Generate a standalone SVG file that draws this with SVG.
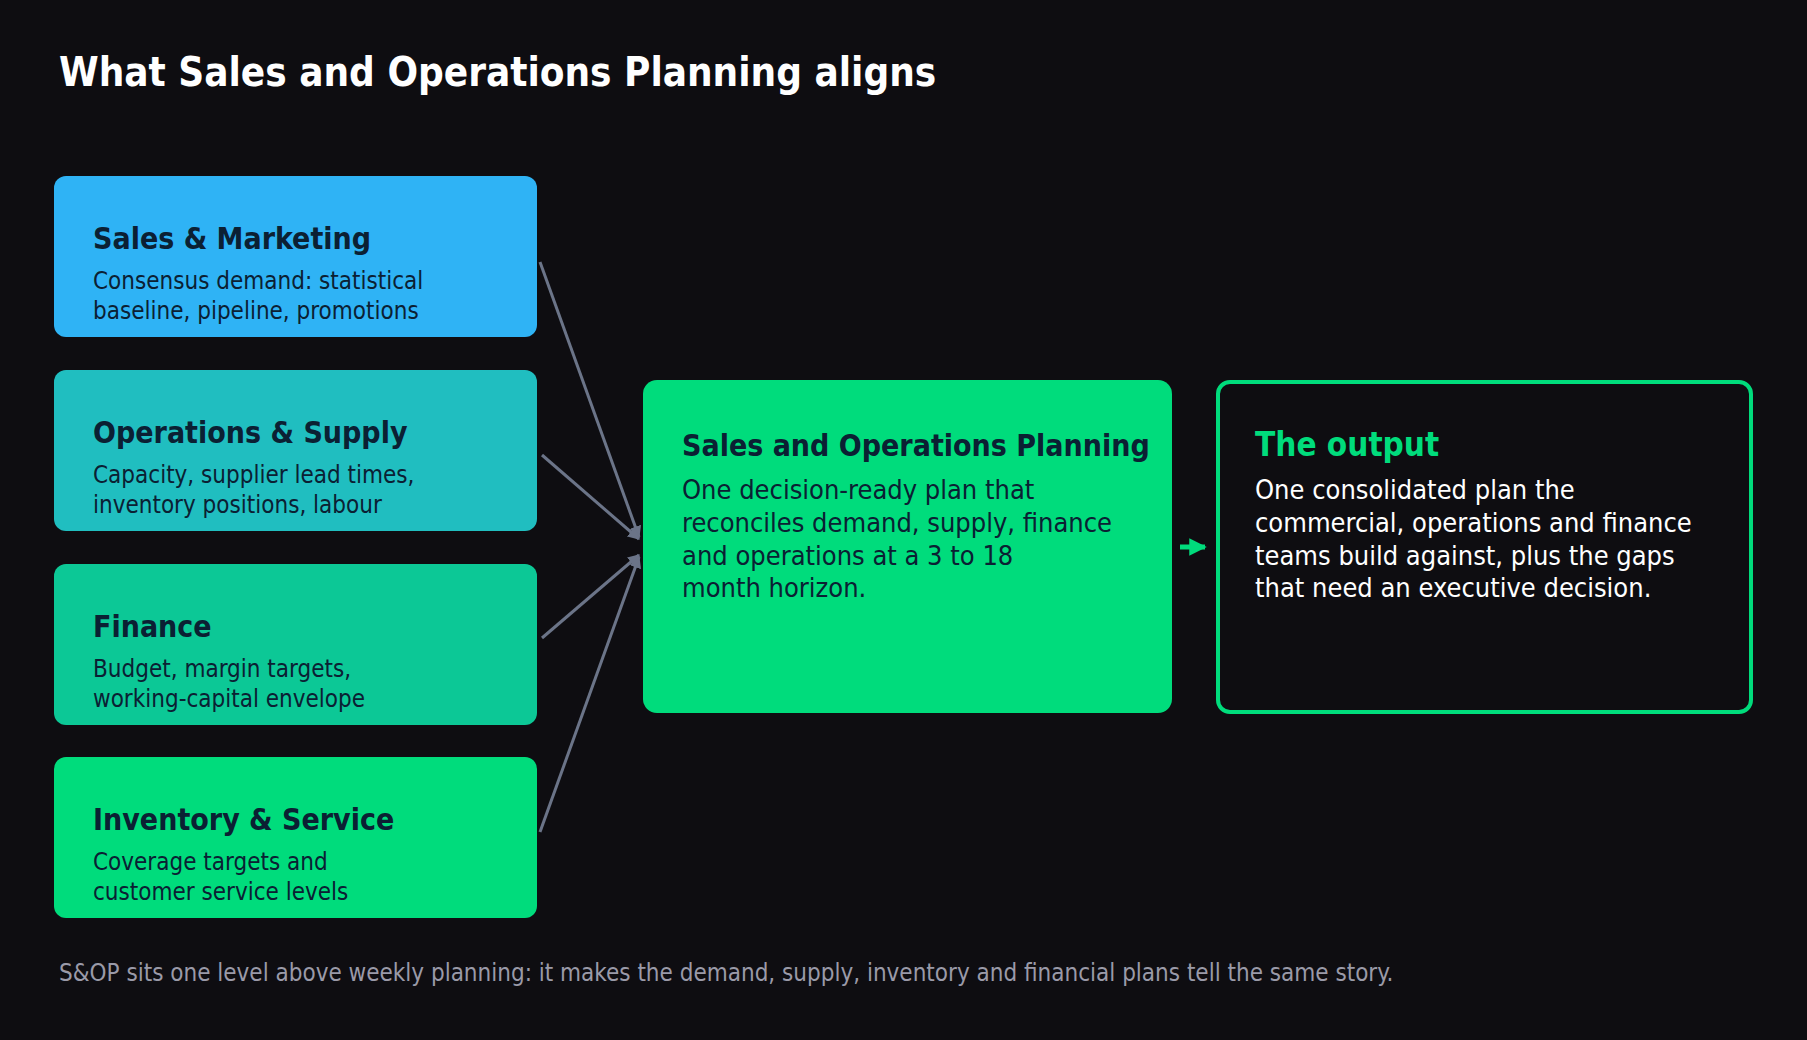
<svg xmlns="http://www.w3.org/2000/svg" width="1807" height="1040" viewBox="0 0 1807 1040">
<style>
text{font-family:"Liberation Sans Narrow","DejaVu Sans Condensed","Liberation Sans",sans-serif}
.t{font-size:30px;font-weight:bold;fill:#0b2033}
.d{font-size:24px;fill:#0b2033}
.c{font-size:27px}
.ln{stroke:#6b7488;stroke-width:3;fill:none;marker-end:url(#ah)}
</style>
<defs>
<marker id="ah" viewBox="0 0 10 10" refX="9" refY="5" markerWidth="4" markerHeight="4" orient="auto"><path d="M0,0L10,5L0,10z" fill="#6b7488"/></marker>
<marker id="ag" viewBox="0 0 10 10" refX="9" refY="5" markerWidth="3.5" markerHeight="3.5" orient="auto"><path d="M0,0L10,5L0,10z" fill="#00dc7c"/></marker>
</defs>
<rect width="1807" height="1040" fill="#0e0d11"/>
<text x="59" y="86" font-size="40" font-weight="bold" fill="#fff">What Sales and Operations Planning aligns</text>
<g id="sales"><rect x="54" y="176" width="483" height="161" rx="12" fill="#2fb3f5"/><text class="t" x="93" y="249">Sales &amp; Marketing</text><text class="d" x="93" y="289">Consensus demand: statistical</text><text class="d" x="93" y="319">baseline, pipeline, promotions</text></g>
<g id="ops"><rect x="54" y="370" width="483" height="161" rx="12" fill="#20bec0"/><text class="t" x="93" y="443">Operations &amp; Supply</text><text class="d" x="93" y="483">Capacity, supplier lead times,</text><text class="d" x="93" y="513">inventory positions, labour</text></g>
<g id="finance"><rect x="54" y="564" width="483" height="161" rx="12" fill="#0cc896"/><text class="t" x="93" y="637">Finance</text><text class="d" x="93" y="677">Budget, margin targets,</text><text class="d" x="93" y="707">working-capital envelope</text></g>
<g id="inventory"><rect x="54" y="757" width="483" height="161" rx="12" fill="#00dc7c"/><text class="t" x="93" y="830">Inventory &amp; Service</text><text class="d" x="93" y="870">Coverage targets and</text><text class="d" x="93" y="900">customer service levels</text></g>
<g id="sop"><rect x="643" y="380" width="529" height="333" rx="14" fill="#00dc7c"/><text class="t" x="682" y="456" font-size="33">Sales and Operations Planning</text><text class="c" x="682" y="499" fill="#0b2033">One decision-ready plan that</text><text class="c" x="682" y="532" fill="#0b2033">reconciles demand, supply, finance</text><text class="c" x="682" y="565" fill="#0b2033">and operations at a 3 to 18</text><text class="c" x="682" y="597" fill="#0b2033">month horizon.</text></g>
<g id="output"><rect x="1218" y="382" width="533" height="330" rx="12" fill="none" stroke="#00dc7c" stroke-width="4"/><text x="1255" y="456" font-size="33" font-weight="bold" fill="#00dc7c">The output</text><text class="c" x="1255" y="499" fill="#fff">One consolidated plan the</text><text class="c" x="1255" y="532" fill="#fff">commercial, operations and finance</text><text class="c" x="1255" y="565" fill="#fff">teams build against, plus the gaps</text><text class="c" x="1255" y="597" fill="#fff">that need an executive decision.</text></g>
<g id="connectors">
<line class="ln" x1="540" y1="262" x2="639" y2="537"/>
<line class="ln" x1="542" y1="455" x2="639" y2="539"/>
<line class="ln" x1="542" y1="638" x2="639" y2="555"/>
<line class="ln" x1="540" y1="832" x2="639" y2="557"/>
<line x1="1180" y1="547" x2="1205" y2="547" stroke="#00dc7c" stroke-width="5" marker-end="url(#ag)"/>
</g>
<text x="59" y="981" font-size="24" fill="#9a9aa8">S&amp;OP sits one level above weekly planning: it makes the demand, supply, inventory and financial plans tell the same story.</text>
</svg>
